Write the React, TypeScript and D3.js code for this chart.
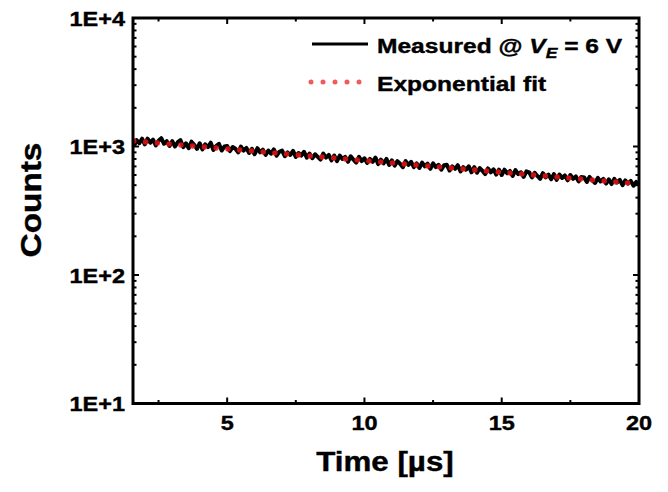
import React from "react";
import * as d3 from "d3";

// ---- data ----
const timeStart = 1.6;
const timeStep = 0.1;
const measuredCounts = [
  1000, 1120, 1060, 1150,
  1040, 1150, 1070, 1130, 1020, 1110, 1160, 1050, 1100, 1010,
  1100, 1000, 1080, 1120, 990, 1060, 970, 1090, 1030, 960,
  1060, 950, 1040, 990, 1070, 940, 1010, 1050, 930, 1000,
  1010, 920, 990, 960, 900, 1000, 930, 975, 890, 960,
  870, 970, 900, 945, 860, 930, 880, 950, 850, 910,
  930, 840, 900, 860, 925, 830, 890, 850, 910, 820,
  880, 810, 870, 830, 790, 880, 820, 860, 780, 850,
  770, 850, 800, 830, 760, 840, 790, 750, 830, 770,
  810, 745, 800, 760, 820, 730, 790, 740, 800, 720,
  780, 710, 770, 735, 690, 770, 720, 760, 690, 740,
  680, 750, 700, 735, 670, 740, 690, 720, 660, 715,
  720, 650, 700, 670, 715, 640, 690, 660, 700, 630,
  690, 625, 680, 645, 610, 675, 630, 665, 605, 660,
  600, 660, 620, 645, 590, 655, 610, 630, 580, 640,
  630, 575, 625, 590, 560, 620, 575, 605, 555, 610,
  550, 605, 570, 595, 545, 600, 560, 585, 535, 580,
  575, 530, 580, 545, 520, 570, 535, 560, 515, 555,
  510, 560, 525, 550, 500, 545, 515, 540, 495, 530,
  505,
];
const measuredTime = measuredCounts.map((_, i) => timeStart + i * timeStep);

const fitTime = [1.6, 5, 10, 15, 20];
const fitCounts = [1105, 959, 778, 631, 512];

const xTicks = [5, 10, 15, 20];
const xMinorTicks = [2.5, 7.5, 12.5, 17.5];
const yTicks = [10, 100, 1000, 10000];
const yTickLabels = ["1E+1", "1E+2", "1E+3", "1E+4"];

// ---- layout ----
const W = 668;
const H = 492;
const L = 133, R = 639, T = 18, B = 403.5;

const FONT = "'Liberation Sans', Arial, sans-serif";
const FIT_COLOR = "rgb(235,20,20)";

function Txt({ x, y, anchor = "start", size, children, sx = 1.12 }: any) {
  return (
    <text
      transform={`translate(${x},${y}) scale(${sx},1)`}
      textAnchor={anchor}
      fontFamily={FONT}
      fontWeight="bold"
      fontSize={size}
      fill="#000"
      stroke="#000"
      strokeWidth={0.4}
    >
      {children}
    </text>
  );
}

export default function App() {
  const x = d3.scaleLinear().domain([1.57, 20]).range([L, R]);
  const y = d3.scaleLog().domain([10, 10000]).range([B, T]);

  const line = d3
    .line<number>()
    .x((_, i) => x(measuredTime[i]))
    .y((d) => y(d));
  const fitLine = d3
    .line<number>()
    .x((_, i) => x(fitTime[i]))
    .y((d) => y(d));

  const yMinor: number[] = [];
  for (let dec = 10; dec < 10000; dec *= 10) {
    for (let k = 2; k <= 9; k++) yMinor.push(dec * k);
  }

  const major = 6;
  const minor = 3.5;
  const tw = 2;

  return (
    <svg width={W} height={H} style={{ position: "absolute", left: 0, top: 0, background: "#fff" }}>
      <rect x={0} y={0} width={W} height={H} fill="#fff" />
      <clipPath id="clip">
        <rect x={L} y={T} width={R - L} height={B - T} />
      </clipPath>

      {/* data */}
      <g clipPath="url(#clip)">
        <path d={line(measuredCounts) || ""} fill="none" stroke="#000" strokeWidth={4} strokeLinejoin="round" />
        <path
          d={fitLine(fitCounts) || ""}
          fill="none"
          stroke={FIT_COLOR}
          strokeOpacity={0.85}
          strokeWidth={5.5}
          strokeLinecap="round"
          strokeDasharray="0 11.8"
        />
      </g>

      {/* ticks */}
      <g stroke="#000" strokeWidth={tw}>
        {xTicks.map((t) => (
          <g key={"xt" + t}>
            <line x1={x(t)} x2={x(t)} y1={B} y2={B - major} />
            <line x1={x(t)} x2={x(t)} y1={T} y2={T + major} />
          </g>
        ))}
        {xMinorTicks.map((t) => (
          <g key={"xm" + t}>
            <line x1={x(t)} x2={x(t)} y1={B} y2={B - minor} />
            <line x1={x(t)} x2={x(t)} y1={T} y2={T + minor} />
          </g>
        ))}
        {yTicks.map((t) => (
          <g key={"yt" + t}>
            <line x1={L} x2={L + major} y1={y(t)} y2={y(t)} />
            <line x1={R} x2={R - major} y1={y(t)} y2={y(t)} />
          </g>
        ))}
        {yMinor.map((t) => (
          <g key={"ym" + t}>
            <line x1={L} x2={L + minor} y1={y(t)} y2={y(t)} />
            <line x1={R} x2={R - minor} y1={y(t)} y2={y(t)} />
          </g>
        ))}
      </g>

      {/* frame */}
      <rect x={L} y={T} width={R - L} height={B - T} fill="none" stroke="#000" strokeWidth={3} />

      {/* tick labels */}
      {xTicks.map((t) => (
        <Txt key={"xl" + t} x={x(t)} y={430} anchor="middle" size={21}>
          {t}
        </Txt>
      ))}
      {yTicks.map((t, i) => (
        <Txt key={"yl" + t} x={125} y={y(t) + 7.6} anchor="end" size={21}>
          {yTickLabels[i]}
        </Txt>
      ))}

      {/* axis titles */}
      <Txt x={385} y={471} anchor="middle" size={27} sx={1.16}>
        Time [µs]
      </Txt>
      <text
        transform={`translate(41,200) rotate(-90) scale(1.15,1)`}
        textAnchor="middle"
        fontFamily={FONT}
        fontWeight="bold"
        fontSize={29}
        stroke="#000"
        strokeWidth={0.4}
      >
        Counts
      </text>

      {/* legend */}
      <line x1={312} x2={368} y1={44} y2={44} stroke="#000" strokeWidth={3} />
      <Txt x={377} y={53} size={21} sx={1.17}>
        Measured @ <tspan fontStyle="italic">V</tspan>
        <tspan fontStyle="italic" fontSize={15} dy={5}>E</tspan>
        <tspan dy={-5}> = 6 V</tspan>
      </Txt>
      <line
        x1={311}
        x2={360}
        y1={82}
        y2={82}
        stroke={FIT_COLOR}
        strokeOpacity={0.7}
        strokeWidth={5}
        strokeLinecap="round"
        strokeDasharray="0 12"
      />
      <Txt x={377} y={91} size={21} sx={1.17}>
        Exponential fit
      </Txt>
    </svg>
  );
}
